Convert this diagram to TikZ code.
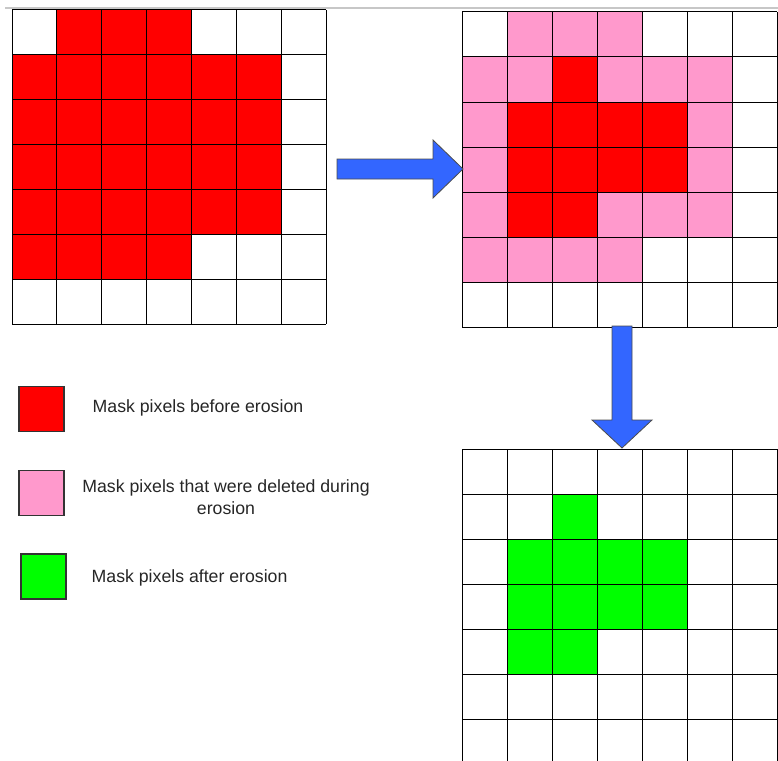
\documentclass[tikz,border=0pt]{standalone}
\usepackage{fontspec}
\setmainfont{Liberation Sans}
\definecolor{maskred}{HTML}{FF0000}
\definecolor{maskpink}{HTML}{FF99CC}
\definecolor{maskgreen}{HTML}{00FF00}
\definecolor{arrowblue}{HTML}{3366FF}
\begin{document}
\begin{tikzpicture}[x=1pt,y=-1pt,
  gridline/.style={draw=black,line width=1pt},
  legbox/.style={draw=black!80,line width=1.2pt,minimum width=45pt,minimum height=45pt,inner sep=0pt},
  legtext/.style={font=\fontsize{17.7}{22}\selectfont,text=black!85,inner sep=0pt},
  blockarrow/.style={fill=arrowblue,draw=black!70,line width=0.8pt,line join=miter}]
\useasboundingbox (0,0) rectangle (778,760);
\begin{scope}
\clip (0,0) rectangle (778,760);
% top rule
\draw[black!22,line width=1.2pt] (5,8) -- (778,8);
% grid 1
\foreach \c/\r in {1/0,2/0,3/0,
  0/1,1/1,2/1,3/1,4/1,5/1,
  0/2,1/2,2/2,3/2,4/2,5/2,
  0/3,1/3,2/3,3/3,4/3,5/3,
  0/4,1/4,2/4,3/4,4/4,5/4,
  0/5,1/5,2/5,3/5}
  \fill[maskred] ({12+\c*44.86},{10+\r*44.86}) rectangle ++(44.86,44.86);
\foreach \i in {0,...,7}{
  \draw[gridline] ({12+\i*44.86},10) -- ++(0,314);
  \draw[gridline] (12,{10+\i*44.86}) -- ++(314,0);
}
% grid 2
\foreach \c/\r in {1/0,2/0,3/0,
  0/1,1/1,3/1,4/1,5/1,
  0/2,5/2,0/3,5/3,
  0/4,3/4,4/4,5/4,
  0/5,1/5,2/5,3/5}
  \fill[maskpink] ({462+\c*45},{12+\r*45}) rectangle ++(45,45);
\foreach \c/\r in {2/1,1/2,2/2,3/2,4/2,1/3,2/3,3/3,4/3,1/4,2/4}
  \fill[maskred] ({462+\c*45},{12+\r*45}) rectangle ++(45,45);
\foreach \i in {0,...,7}{
  \draw[gridline] ({462+\i*45},12) -- ++(0,315);
  \draw[gridline] (462,{12+\i*45}) -- ++(315,0);
}
% grid 3
\foreach \c/\r in {2/1,1/2,2/2,3/2,4/2,1/3,2/3,3/3,4/3,1/4,2/4}
  \fill[maskgreen] ({462+\c*45},{449+\r*45}) rectangle ++(45,45);
\foreach \i in {0,...,7}{
  \draw[gridline] ({462+\i*45},449) -- ++(0,315);
  \draw[gridline] (462,{449+\i*45}) -- ++(315,0);
}
\end{scope}
% arrows
\coordinate (h0) at (337,169);
\coordinate (h1) at (463,169);
\draw[blockarrow] (337,159) -- (433,159) -- (433,140) -- (h1) -- (433,198) -- (433,179) -- (337,179) -- cycle;
\coordinate (v0) at (622,326);
\coordinate (v1) at (622,448);
\draw[blockarrow] (612,326) -- (632,326) -- (632,420) -- (652,420) -- (v1) -- (592,420) -- (612,420) -- cycle;
% legend
\node[legbox,fill=maskred] (lred) at (41.5,409) {};
\node[legtext,anchor=west] (tred) at (92.5,408) {Mask pixels before erosion};
\node[legbox,fill=maskpink] (lpink) at (41.5,493) {};
\node[legtext,align=center] (tpink) at (226,497) {Mask pixels that were deleted during\\erosion};
\node[legbox,fill=maskgreen] (lgreen) at (43.5,576.5) {};
\node[legtext,anchor=west] (tgreen) at (91.5,578) {Mask pixels after erosion};
\end{tikzpicture}
\end{document}
